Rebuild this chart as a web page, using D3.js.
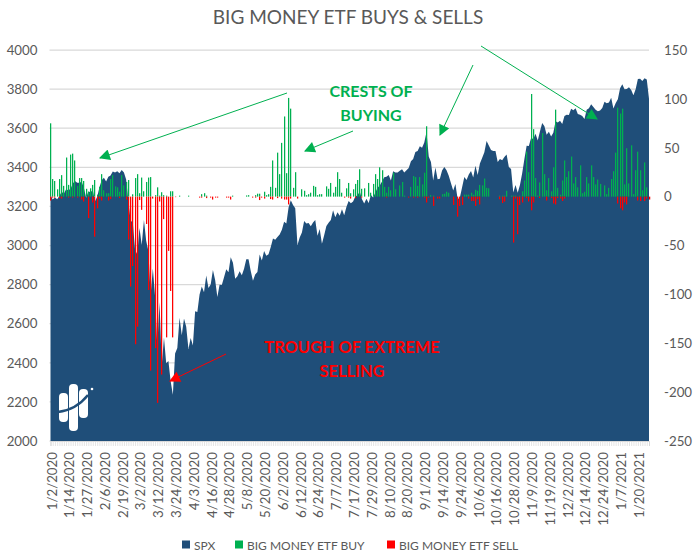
<!DOCTYPE html>
<html>
<head>
<meta charset="utf-8">
<script src="https://cdnjs.cloudflare.com/ajax/libs/d3/7.8.5/d3.min.js"></script>
<style>
    html, body { margin: 0; padding: 0; background: #fff; }
    svg { display: block; }
    text { font-family: Lato, "Open Sans", sans-serif; fill: #595959; }
</style>
</head>
<body>
<div id="chart"></div>
<script>
// labels on the bottom axis, one for every 8th trading day
var tickLabels = ['1/2/2020', '1/14/2020', '1/27/2020', '2/6/2020', '2/19/2020', '3/2/2020', '3/12/2020',
    '3/24/2020', '4/3/2020', '4/16/2020', '4/28/2020', '5/8/2020', '5/20/2020', '6/2/2020', '6/12/2020',
    '6/24/2020', '7/7/2020', '7/17/2020', '7/29/2020', '8/10/2020', '8/20/2020', '9/1/2020', '9/14/2020',
    '9/24/2020', '10/6/2020', '10/16/2020', '10/28/2020', '11/9/2020', '11/19/2020', '12/2/2020',
    '12/14/2020', '12/24/2020', '1/7/2021', '1/20/2021'];
var tickStep = 8;

var leftTicks = [2000, 2200, 2400, 2600, 2800, 3000, 3200, 3400, 3600, 3800, 4000];
var rightTicks = [-250, -200, -150, -100, -50, 0, 50, 100, 150];

// SPX, one value for each trading day
var spx = [
    3258, 3235, 3246, 3237, 3253, 3275, 3265, 3288, 3283, 3289, 3317, 3330, 3321, 3321, 3326, 3295, 3244, 3276, 3273, 3284, 3226,
    3249, 3298, 3334, 3346, 3328, 3352, 3358, 3379, 3374, 3380, 3370, 3386, 3373, 3338, 3226, 3128, 3116, 2979, 2954,
    3090, 3003, 3130, 3024, 2972, 2747, 2882, 2741, 2481, 2711, 2386, 2529, 2398, 2409, 2305, 2237, 2447, 2476, 2630, 2541, 2627, 2585,
    2471, 2527, 2489, 2664, 2660, 2750, 2790, 2761, 2846, 2783, 2800, 2875, 2823, 2737, 2799, 2798, 2837, 2878, 2863, 2940, 2912,
    2830, 2843, 2868, 2848, 2881, 2930, 2930, 2870, 2820, 2852, 2864, 2954, 2923, 2972, 2948, 2955, 2992, 3036, 3030, 3044,
    3056, 3081, 3122, 3112, 3194, 3232, 3207, 3190, 3002, 3041, 3067, 3125, 3113, 3115, 3098, 3118, 3131, 3050, 3084, 3009, 3053, 3100,
    3116, 3130, 3180, 3145, 3170, 3152, 3185, 3155, 3197, 3227, 3216, 3225, 3251, 3257, 3276, 3236, 3215, 3239, 3218, 3258, 3246, 3271,
    3295, 3307, 3327, 3349, 3352, 3360, 3333, 3380, 3373, 3373, 3382, 3390, 3374, 3385, 3397, 3431, 3443, 3478, 3484, 3508, 3500,
    3527, 3581, 3455, 3427, 3332, 3399, 3339, 3341, 3383, 3401, 3385, 3357, 3319, 3281, 3315, 3237, 3246, 3298, 3351, 3335, 3363,
    3381, 3348, 3408, 3361, 3419, 3447, 3477, 3534, 3512, 3489, 3483, 3484, 3427, 3443, 3436, 3453, 3465, 3401, 3391, 3271, 3310, 3270,
    3310, 3370, 3443, 3510, 3509, 3550, 3545, 3572, 3537, 3585, 3627, 3610, 3567, 3582, 3558, 3577, 3635, 3629, 3638, 3622,
    3662, 3669, 3667, 3699, 3692, 3702, 3673, 3669, 3663, 3647, 3695, 3702, 3722, 3709, 3694, 3687, 3690, 3703, 3735, 3727, 3732, 3756,
    3701, 3727, 3748, 3804, 3825, 3799, 3801, 3810, 3795, 3768, 3799, 3852, 3853, 3841, 3855, 3849, 3751];

// ETF buys, [trading day, value]
var etfBuy = [[0,75],[1,18],[2,16],[3,7.5],[4,18],[5,22],[6,11],[7,40],[8,12],[9,43],[10,44],[11,37],[12,11],
    [13,19],[14,19],[15,16],[16,8],[17,5],[18,8.5],[19,12],[20,17],[21,2],[22,10],[23,23],[24,6.5],[25,3.5],
    [26,3.5],[27,18],[28,22],[29,10.5],[30,9.5],[31,5],[32,22],[33,11.5],[34,15],[35,17],[37,2.4],[38,19],
    [39,23],[40,3.5],[41,19.5],[42,5.5],[43,15],[44,19.5],[45,20],[47,1.5],[48,9.5],[49,1],[50,4.5],[51,1.5],
    [52,1],[54,5.5],[55,5.5],[58,1],[62,1],[68,2.5],[69,3.5],[70,1],[82,1],[88,1.2],[89,1.5],[92,1.5],[93,3],
    [94,3],[96,5],[97,1.5],[98,2.5],[99,10],[100,37],[101,9],[102,45],[103,23],[104,55],[105,82],[106,24],
    [107,101],[108,90],[109,9],[110,25],[113,7.5],[114,6],[115,1.5],[116,2.5],[117,4],[118,11],[119,10],
    [120,1.5],[121,2.5],[122,2.5],[124,10.5],[125,8],[126,14],[127,4],[128,10],[129,25],[130,18],[131,4],
    [133,8.5],[134,14],[135,3.5],[136,7.5],[137,13],[138,17],[139,28],[140,8],[141,8.5],[143,14],[144,4],
    [145,13],[146,23],[147,18],[148,30],[149,27],[150,10],[151,4],[152,10],[153,6.5],[154,24.5],[155,7.5],
    [157,11.5],[158,15],[159,1],[162,10],[163,21],[164,20],[165,11],[166,20],[167,12.5],[168,24.5],[169,72],
    [171,1.5],[172,1],[176,2.5],[177,3],[178,5],[179,4],[186,2],[187,2],[188,2],[189,4],[190,2],[191,7],[192,6],
    [193,12],[194,11.5],[195,18.5],[196,9],[197,8.5],[202,1],[203,1],[204,1],[205,6],[207,1],[208,1],[209,1],
    [211,1],[212,5.5],[213,16.5],[214,46],[215,25],[216,105],[217,69],[218,19],[219,1],[220,14.5],[221,65],
    [222,23],[223,6.5],[224,19],[225,5.5],[226,30],[227,89],[228,9],[229,2],[230,16.5],[231,37],[232,20],
    [233,26],[234,41],[235,13.5],[236,20],[237,9.5],[238,32],[239,3.5],[240,5],[241,20],[242,13.5],[243,32],
    [244,20],[245,12.5],[246,17.5],[247,13],[249,11.5],[250,2.5],[251,9],[252,18],[253,26],[254,45],[255,91],
    [256,85],[257,90],[258,12.5],[259,49.5],[260,13.5],[261,52.5],[262,2.5],[263,27],[264,46],[265,27],
    [266,6.5],[267,35],[268,9.5]];

// ETF sells, [trading day, value], drawn below zero
var etfSell = [[0,4],[1,1],[2,1],[4,1.5],[5,2],[8,1],[10,1],[12,1],[14,3],[15,5],[17,22],[19,6],[20,41],[21,12],
    [22,2],[23,4],[26,4],[27,2.5],[31,1.5],[34,3],[35,44],[36,92],[37,71],[38,151],[39,133],[40,3.5],[41,13.5],
    [43,28],[44,95.5],[45,178],[46,2],[47,155],[48,211],[49,5],[50,182],[51,23],[52,144],[53,55.5],[54,96.5],
    [55,144],[56,0.5],[67,1],[68,1],[70,1.5],[72,1],[73,3],[74,1],[75,1],[79,1],[80,1],[81,3],[91,1],[92,1],
    [94,3.5],[95,1],[96,2],[99,2.5],[100,3],[102,1.5],[104,2],[105,3],[106,3],[107,8],[108,2],[111,2],[132,1],
    [134,1],[135,2],[137,1.5],[140,1],[151,1],[161,1],[163,1],[165,1],[168,1],[169,6],[170,1],[172,9.5],[174,2],
    [175,2],[181,8.5],[183,20.5],[184,9.5],[185,8.5],[188,2],[189,4.5],[190,4.5],[191,9.5],[192,2.7],[193,8],
    [202,2.7],[203,6.5],[204,5],[208,47],[209,2],[210,38.5],[211,8.5],[212,6],[214,1.5],[215,5],[216,14],[217,6],
    [220,1.5],[223,4],[225,1.5],[226,7],[227,8],[228,1.5],[229,2],[230,4.5],[231,2],[255,7],[256,12],[257,14],
    [258,6],[259,8],[264,4],[265,4.5],[267,4.5],[268,2],[269,3]];

var legendItems = ['SPX', 'BIG MONEY ETF BUY', 'BIG MONEY ETF SELL'];

var width = 694,
    height = 554;
var plot = { left: 50.5, right: 649, top: 50, bottom: 441 };
var blue = '#1f4e79',
    green = '#00b050',
    red = '#ff0000',
    grid = '#d9d9d9';

var svg = d3.select('#chart').append('svg')
    .attr('width', width)
    .attr('height', height);

var x = d3.scalePoint().domain(d3.range(spx.length)).range([plot.left, plot.right]);
var yLeft = d3.scaleLinear().domain([2000, 4000]).range([plot.bottom, plot.top]);
var yRight = d3.scaleLinear().domain([-250, 150]).range([plot.bottom, plot.top]);

// arrow heads
[['arrowGreen', green], ['arrowRed', red]].forEach(function(m) {
    svg.append('defs').append('marker')
        .attr('id', m[0])
        .attr('viewBox', '0 0 10 10')
        .attr('refX', 9)
        .attr('refY', 5)
        .attr('markerUnits', 'userSpaceOnUse')
        .attr('markerWidth', 12)
        .attr('markerHeight', 11)
        .attr('orient', 'auto')
        .append('path')
        .attr('d', 'M0,0L10,5L0,10Z')
        .attr('fill', m[1]);
});

svg.append('text')
    .attr('x', 348)
    .attr('y', 24)
    .attr('text-anchor', 'middle')
    .style('font-size', '19px')
    .text('BIG MONEY ETF BUYS & SELLS');

// gridlines
svg.append('g').selectAll('line')
    .data(leftTicks)
    .enter().append('line')
    .attr('x1', 49.5)
    .attr('x2', plot.right)
    .attr('y1', function(d) { return yLeft(d); })
    .attr('y2', function(d) { return yLeft(d); })
    .attr('stroke', grid)
    .attr('stroke-width', 1.25);

// SPX area
var area = d3.area()
    .x(function(d, i) { return x(i); })
    .y0(plot.bottom)
    .y1(function(d) { return yLeft(d); });

svg.append('path')
    .datum(spx)
    .attr('d', area)
    .attr('fill', blue);

// buy and sell bars, left edge on a whole pixel so they stay solid
var barWidth = 1.25;

function barX(d) {
    return Math.round(x(d[0]) - 0.5);
}

svg.append('g').selectAll('rect')
    .data(etfBuy)
    .enter().append('rect')
    .attr('x', barX)
    .attr('y', function(d) { return yRight(d[1]); })
    .attr('width', barWidth)
    .attr('height', function(d) { return yRight(0) - yRight(d[1]); })
    .attr('fill', green);

svg.append('g').selectAll('rect')
    .data(etfSell)
    .enter().append('rect')
    .attr('x', barX)
    .attr('y', yRight(0))
    .attr('width', barWidth)
    .attr('height', function(d) { return yRight(-d[1]) - yRight(0); })
    .attr('fill', red);

// left and right value axes
var leftAxis = svg.append('g')
    .attr('transform', 'translate(' + plot.left + ',0)')
    .call(d3.axisLeft(yLeft).tickValues(leftTicks).tickFormat(String).tickSize(0).tickPadding(13));

var rightAxis = svg.append('g')
    .attr('transform', 'translate(' + plot.right + ',0)')
    .call(d3.axisRight(yRight).tickValues(rightTicks).tickFormat(String).tickSize(0).tickPadding(15));

[leftAxis, rightAxis].forEach(function(axis) {
    axis.select('.domain').remove();
    axis.selectAll('text').style('font-family', 'Lato').style('font-size', '13.3px').attr('fill', '#595959');
});

// a small tick for every trading day
var dayAxis = svg.append('g')
    .attr('transform', 'translate(0,' + plot.bottom + ')')
    .call(d3.axisBottom(x).tickSize(5).tickFormat(''));

dayAxis.select('.domain').attr('stroke', grid);
dayAxis.selectAll('line').attr('stroke', grid).attr('stroke-width', 0.7);

// rotated date labels
var labelDays = tickLabels.map(function(d, i) { return i * tickStep; });

svg.append('g').selectAll('text')
    .data(labelDays)
    .enter().append('text')
    .attr('transform', function(d) { return 'translate(' + (x(d) + 6) + ',452) rotate(-90)'; })
    .attr('text-anchor', 'end')
    .style('font-size', '13.3px')
    .text(function(d, i) { return tickLabels[i]; });

// annotations
function arrow(x1, y1, x2, y2, color, marker) {
    svg.append('line')
        .attr('x1', x1).attr('y1', y1)
        .attr('x2', x2).attr('y2', y2)
        .attr('stroke', color)
        .attr('stroke-width', 1)
        .attr('marker-end', 'url(#' + marker + ')');
}

arrow(287, 93, 100, 158, green, 'arrowGreen');
arrow(353, 131, 305, 151, green, 'arrowGreen');
arrow(473, 65, 440, 135, green, 'arrowGreen');
arrow(481, 46, 597, 119, green, 'arrowGreen');
arrow(226, 354, 170, 381, red, 'arrowRed');

function note(lines, cx, y, color, size) {
    lines.forEach(function(line, i) {
        svg.append('text')
            .attr('x', cx)
            .attr('y', y + i * 24)
            .attr('text-anchor', 'middle')
            .style('font-size', size + 'px')
            .style('font-weight', 'bold')
            .style('fill', color)
            .text(line);
    });
}

note(['CRESTS OF', 'BUYING'], 371, 97, green, 16);
note(['TROUGH OF EXTREME', 'SELLING'], 352, 353, red, 16.4);

// logo in the lower left corner
var logo = svg.append('g');
[[59, 393, 9, 29], [69, 384, 9, 47], [79, 389, 9, 29]].forEach(function(b) {
    logo.append('rect')
        .attr('x', b[0]).attr('y', b[1])
        .attr('width', b[2]).attr('height', b[3])
        .attr('rx', 4)
        .attr('fill', '#fff');
});
logo.append('path')
    .attr('d', 'M58,412Q76,410 88,395')
    .attr('fill', 'none')
    .attr('stroke', blue)
    .attr('stroke-width', 2.5);
logo.append('circle').attr('cx', 92).attr('cy', 389).attr('r', 1.3).attr('fill', '#fff');

// legend
var legendX = [182, 235, 387];
legendItems.forEach(function(name, i) {
    svg.append('rect')
        .attr('x', legendX[i])
        .attr('y', 540.5)
        .attr('width', 8)
        .attr('height', 8)
        .attr('fill', [blue, green, red][i]);
    svg.append('text')
        .attr('x', legendX[i] + 12)
        .attr('y', 549.5)
        .style('font-size', '12px')
        .text(name);
});
</script>
</body>
</html>
